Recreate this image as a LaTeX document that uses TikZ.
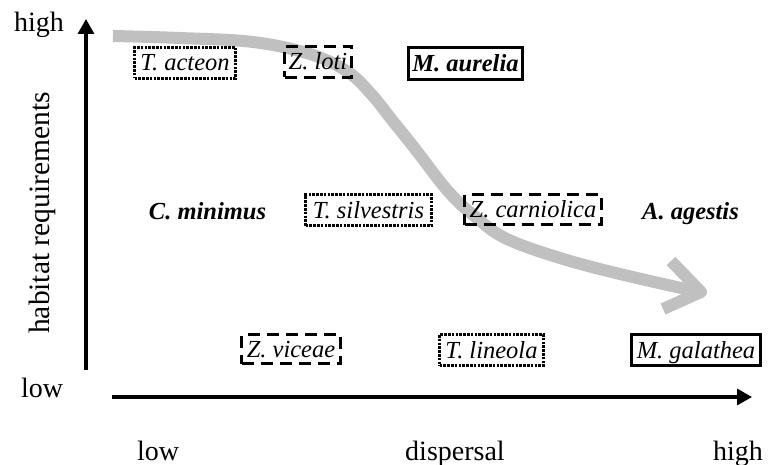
\documentclass[tikz,border=0pt]{standalone}
\usepackage{fontspec}
\setmainfont{Liberation Serif}
\usetikzlibrary{arrows.meta}
\definecolor{trendgray}{RGB}{192,192,192}
\begin{document}
\begin{tikzpicture}[x=1pt,y=-1pt,
  lab/.style={font=\fontsize{28}{30}\selectfont, inner sep=0pt},
  sp/.style={font=\fontsize{24.5}{26}\selectfont\itshape, inner sep=0pt, text height=18pt, text depth=2pt, align=center},
  spb/.style={sp, font=\fontsize{24.5}{26}\selectfont\bfseries\itshape},
  dotbox/.style={draw, line width=3.4pt, dash pattern=on 2.6pt off 1.2pt},
  dashbox/.style={draw, line width=3.4pt, dash pattern=on 12pt off 7pt},
  solidbox/.style={draw, line width=3.6pt},
  axis/.style={line width=3.2pt, -{Triangle[length=15pt,width=16pt]}},
  trend/.style={line width=12pt, color=trendgray}]
\useasboundingbox (0,0) rectangle (773,465);

% trend curve
\draw[trend, line cap=butt] plot[smooth, tension=0.6] coordinates {(113,36) (180,38) (253,42) (310,54) (348,72) (372,95) (392,120) (416,150) (447,190) (472,214) (505,238) (560,258) (620,274) (699,292)};
\draw[trend, line join=round, line cap=butt] (671,261) -- (701,292) -- (663,309);

% axes
\coordinate (vb) at (86,370);
\coordinate (vt) at (86,19);
\coordinate (hb) at (112,397);
\coordinate (ht) at (752,397);
\draw[axis] (vb) -- (vt);
\draw[axis] (hb) -- (ht);

% axis labels
\node[lab, anchor=base] (yhigh) at (39,32) {high};
\node[lab, anchor=base] (ylow) at (42,397) {low};
\node[lab, anchor=base] (xlow) at (158,460) {low};
\node[lab, anchor=base] (xlab) at (455,460) {dispersal};
\node[lab, anchor=base] (xhigh) at (738,460) {high};
\node[lab, rotate=90, font=\fontsize{29.5}{31}\selectfont] (ylab) at (42,213) {habitat requirements};

% species
\node[sp, dotbox, minimum width=101pt, minimum height=31pt] (tacteon) at (185,63) {T. acteon};
\node[sp, dashbox, minimum width=67pt, minimum height=31pt] (zloti) at (318,62) {Z. loti};
\node[spb, solidbox, minimum width=114pt, minimum height=32pt] (maurelia) at (465.5,63.5) {M. aurelia};
\node[spb] (cminimus) at (207.5,211) {C. minimus};
\node[sp, dotbox, minimum width=126pt, minimum height=31pt] (tsilvestris) at (368.5,210) {T. silvestris};
\node[sp, dashbox, minimum width=137pt, minimum height=30pt] (zcarniolica) at (533,209.5) {Z. carniolica};
\node[spb] (aagestis) at (690.5,211) {A. agestis};
\node[sp, dashbox, minimum width=99pt, minimum height=29pt] (zviceae) at (291,349) {Z. viceae};
\node[sp, dotbox, minimum width=104pt, minimum height=31pt] (tlineola) at (491.5,350) {T. lineola};
\node[sp, solidbox, minimum width=129pt, minimum height=31pt] (mgalathea) at (696,350) {M. galathea};
\end{tikzpicture}
\end{document}
